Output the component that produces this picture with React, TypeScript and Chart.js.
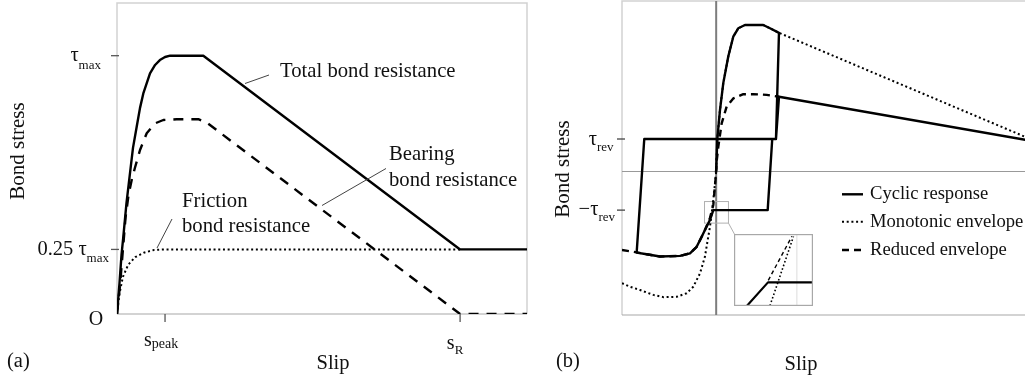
import React, { useEffect, useRef } from "react";
import { Chart, registerables } from "chart.js";

Chart.register(...registerables);

const SERIF = "'Liberation Serif', 'Times New Roman', Times, serif";
const INK = "#111111";

// ---------------- Panel (a): monotonic bond stress-slip components ----------------
// slip in units of s_R, stress in units of tau_max
const slipTotal = [0, 0.0073, 0.0131, 0.0184, 0.0277, 0.0379, 0.0466, 0.0574, 0.0671, 0.0767, 0.0962, 0.111, 0.125, 0.14, 0.155, 0.2516, 1.0, 1.195];
const stressTotal = [0, 0.12, 0.228, 0.299, 0.43, 0.545, 0.643, 0.725, 0.798, 0.854, 0.932, 0.964, 0.983, 0.995, 1.0, 1.0, 0.25, 0.25];

const slipBearing = [0, 0.0093, 0.0172, 0.0248, 0.0335, 0.043, 0.0525, 0.0671, 0.0866, 0.111, 0.135, 0.174, 0.237, 0.2615, 1.0, 1.195];
const stressBearing = [0, 0.119, 0.248, 0.372, 0.46, 0.52, 0.567, 0.635, 0.7, 0.738, 0.751, 0.754, 0.754, 0.741, 0, 0];

const slipFriction = [0, 0.0073, 0.0172, 0.0324, 0.0528, 0.0778, 0.108, 0.138, 1.0];
const stressFriction = [0, 0.08, 0.144, 0.19, 0.22, 0.237, 0.248, 0.25, 0.25];

const yTickValuesA = [1, 0.25];
const xTickValuesA = [0.14, 1];
const namesA = ["Total bond resistance", "Bearing bond resistance", "Friction bond resistance"];

// ---------------- Panel (b): cyclic response ----------------
const tauRev = 1;
const tauRevNeg = -1.19;

const slipCyclic = [0, 0.018, 0.061, 0.114, 0.194, 0.274, 0.354, 0.462, 0.755, 0.863, 1.007, 0.959, -1.153, -1.275, -1.114, -0.901, -0.58, -0.42, -0.313, -0.232, -0.18, -0.099, -0.046, 0.826, 0.899, 0.959, 1.007, 5.0];
const stressCyclic = [0, 1.0, 1.89, 2.72, 3.54, 4.15, 4.41, 4.51, 4.51, 4.41, 4.27, 1.0, 1.0, -2.5, -2.55, -2.62, -2.6, -2.52, -2.32, -2.01, -1.8, -1.49, -1.19, -1.19, 1.0, 1.0, 2.3, 0.96];

const slipMono = [-1.51, -1.382, -1.222, -1.008, -0.848, -0.633, -0.473, -0.367, -0.26, -0.18, -0.127, -0.099, -0.046, 0, 0.018, 0.061, 0.114, 0.194, 0.274, 0.354, 0.462, 0.755, 0.863, 1.007, 5.0];
const stressMono = [-3.44, -3.55, -3.65, -3.8, -3.87, -3.86, -3.75, -3.55, -3.14, -2.62, -2.01, -1.7, -0.88, 0, 1.0, 1.89, 2.72, 3.54, 4.15, 4.41, 4.51, 4.51, 4.41, 4.27, 1.03];

const slipReduced = [-1.51, -1.275, -1.114, -0.901, -0.58, -0.42, -0.313, -0.232, -0.18, -0.099, -0.046, -0.011, 0.01, 0.034, 0.088, 0.168, 0.274, 0.435, 0.595, 0.81, 1.007];
const stressReduced = [-2.42, -2.49, -2.55, -2.62, -2.6, -2.52, -2.32, -2.01, -1.8, -1.43, -1.03, -0.26, 0.35, 0.76, 1.48, 2.0, 2.25, 2.38, 2.38, 2.36, 2.3];

const namesB = ["Cyclic response", "Monotonic envelope", "Reduced envelope"];

// zoom window shown by the inset (in panel-b data units)
const zoomWindowX = [-0.187, 0.197];
const zoomWindowY = [-1.59, -0.926];

// ---------------- Inset (magnified detail, normalised units) ----------------
const insetSlipCyclic = [0.162, 0.43, 1.0];
const insetStressCyclic = [0, 0.328, 0.328];
const insetSlipReduced = [0.434, 0.732];
const insetStressReduced = [0.356, 0.966];
const insetSlipMono = [0.455, 0.753];
const insetStressMono = [0.004, 0.966];
const insetGuideX = 0.796;

function xy(xs: number[], ys: number[]) {
  return xs.map((x, i) => ({ x, y: ys[i] }));
}

function subLabel(
  ctx: CanvasRenderingContext2D,
  main: string,
  sub: string,
  x: number,
  y: number,
  align: "left" | "right" | "center",
  mainSize = 20,
  subSize = 13,
  subDy = 7
) {
  ctx.font = `${mainSize}px ${SERIF}`;
  const wm = ctx.measureText(main).width;
  ctx.font = `${subSize}px ${SERIF}`;
  const ws = ctx.measureText(sub).width;
  const total = wm + ws;
  const x0 = align === "left" ? x : align === "right" ? x - total : x - total / 2;
  ctx.textAlign = "left";
  ctx.textBaseline = "alphabetic";
  ctx.font = `${mainSize}px ${SERIF}`;
  ctx.fillText(main, x0, y);
  ctx.font = `${subSize}px ${SERIF}`;
  ctx.fillText(sub, x0 + wm, y + subDy);
}

function line(ctx: CanvasRenderingContext2D, x1: number, y1: number, x2: number, y2: number) {
  ctx.beginPath();
  ctx.moveTo(x1, y1);
  ctx.lineTo(x2, y2);
  ctx.stroke();
}

const panelAPlugin = {
  id: "panelA",
  beforeDraw(chart: any) {
    const { ctx, width, height } = chart;
    ctx.save();
    ctx.fillStyle = "#ffffff";
    ctx.fillRect(0, 0, width, height);
    ctx.restore();
  },
  beforeDatasetsDraw(chart: any) {
    const { ctx, chartArea, scales } = chart;
    const { left, top, right, bottom } = chartArea;
    ctx.save();
    ctx.strokeStyle = "#d2d2d2";
    ctx.lineWidth = 1.5;
    ctx.beginPath();
    ctx.moveTo(left, bottom);
    ctx.lineTo(left, top);
    ctx.lineTo(right, top);
    ctx.lineTo(right, bottom);
    ctx.stroke();
    ctx.strokeStyle = "#a8a8a8";
    ctx.lineWidth = 1.2;
    line(ctx, left, bottom, right, bottom);
    // ticks
    ctx.strokeStyle = "#555";
    ctx.lineWidth = 1.3;
    yTickValuesA.forEach((v) => {
      const py = scales.y.getPixelForValue(v);
      line(ctx, left - 6, py, left + 2, py);
    });
    xTickValuesA.forEach((v) => {
      const px = scales.x.getPixelForValue(v);
      line(ctx, px, bottom, px, bottom + 8);
    });
    ctx.restore();
  },
  afterDraw(chart: any) {
    const { ctx, chartArea, scales } = chart;
    const { left, bottom } = chartArea;
    ctx.save();
    ctx.fillStyle = INK;
    // y tick labels
    const pMax = scales.y.getPixelForValue(yTickValuesA[0]);
    subLabel(ctx, "\u03c4", "max", left - 16, pMax + 5.5, "right", 20.5, 13, 7.5);
    const pQ = scales.y.getPixelForValue(yTickValuesA[1]);
    subLabel(ctx, "0.25 \u03c4", "max", left - 8, pQ + 5.5, "right", 20.5, 13, 7.5);
    ctx.font = `20px ${SERIF}`;
    ctx.textAlign = "center";
    ctx.textBaseline = "middle";
    ctx.fillText("O", left - 21, bottom + 6);
    // x tick labels
    const pPeak = scales.x.getPixelForValue(xTickValuesA[0]);
    subLabel(ctx, "s", "peak", pPeak - 4, bottom + 32, "center", 20, 14, 2);
    const pR = scales.x.getPixelForValue(xTickValuesA[1]);
    subLabel(ctx, "s", "R", pR - 5, bottom + 35, "center", 20, 13, 5);
    // axis titles
    ctx.font = `20.5px ${SERIF}`;
    ctx.textAlign = "center";
    ctx.textBaseline = "middle";
    ctx.fillText("Slip", 333, 364);
    ctx.textAlign = "left";
    ctx.fillText("(a)", 7, 362);
    ctx.save();
    ctx.translate(18, 151);
    ctx.rotate(-Math.PI / 2);
    ctx.font = `21px ${SERIF}`;
    ctx.textAlign = "center";
    ctx.fillText("Bond stress", 0, 0);
    ctx.restore();
    // annotations
    ctx.font = `20.7px ${SERIF}`;
    ctx.textAlign = "left";
    ctx.textBaseline = "middle";
    ctx.fillText(namesA[0], 280, 72);
    ctx.fillText("Bearing", 389, 155);
    ctx.fillText("bond resistance", 389, 181);
    ctx.fillText("Friction", 182, 202);
    ctx.fillText("bond resistance", 182, 227);
    ctx.strokeStyle = "#444";
    ctx.lineWidth = 1;
    line(ctx, 245, 83.5, 269, 75);
    line(ctx, 322, 205.5, 386, 168.5);
    line(ctx, 157, 248, 172, 219);
    ctx.restore();
  },
};

const panelBPlugin = {
  id: "panelB",
  beforeDraw(chart: any) {
    const { ctx, width, height } = chart;
    ctx.save();
    ctx.fillStyle = "#ffffff";
    ctx.fillRect(0, 0, width, height);
    ctx.restore();
  },
  beforeDatasetsDraw(chart: any) {
    const { ctx, chartArea, scales } = chart;
    const { left, top, right, bottom } = chartArea;
    ctx.save();
    ctx.strokeStyle = "#d2d2d2";
    ctx.lineWidth = 1.5;
    ctx.beginPath();
    ctx.moveTo(left, bottom);
    ctx.lineTo(left, top);
    ctx.lineTo(right, top);
    ctx.stroke();
    ctx.strokeStyle = "#a8a8a8";
    ctx.lineWidth = 1.2;
    line(ctx, left, bottom, right, bottom);
    // zero axes
    const x0 = scales.x.getPixelForValue(0);
    const y0 = scales.y.getPixelForValue(0);
    ctx.strokeStyle = "#999";
    ctx.lineWidth = 1.2;
    line(ctx, left, y0, right, y0);
    ctx.strokeStyle = "#7d7d7d";
    ctx.lineWidth = 2;
    line(ctx, x0, top, x0, bottom);
    // ticks
    ctx.strokeStyle = "#444";
    ctx.lineWidth = 1.3;
    [tauRev, tauRevNeg].forEach((v) => {
      const py = scales.y.getPixelForValue(v);
      line(ctx, left - 5, py, left + 3, py);
    });
    // zoom window + connector to inset
    const zx1 = scales.x.getPixelForValue(zoomWindowX[0]);
    const zx2 = scales.x.getPixelForValue(zoomWindowX[1]);
    const zy1 = scales.y.getPixelForValue(zoomWindowY[1]);
    const zy2 = scales.y.getPixelForValue(zoomWindowY[0]);
    ctx.strokeStyle = "#b0b0b0";
    ctx.lineWidth = 1;
    ctx.strokeRect(zx1, zy1, zx2 - zx1, zy2 - zy1);
    line(ctx, zx2, zy2, zx2 + 6, zy2 + 11);
    ctx.restore();
  },
  afterDraw(chart: any) {
    const { ctx, chartArea, scales } = chart;
    const { left } = chartArea;
    ctx.save();
    ctx.fillStyle = INK;
    const pR = scales.y.getPixelForValue(tauRev);
    subLabel(ctx, "\u03c4", "rev", left - 8.5, pR + 6, "right", 20.5, 13, 6);
    const pRn = scales.y.getPixelForValue(tauRevNeg);
    subLabel(ctx, "\u2212\u03c4", "rev", left - 7, pRn + 5, "right", 20.5, 13, 6);
    ctx.font = `20.5px ${SERIF}`;
    ctx.textAlign = "center";
    ctx.textBaseline = "middle";
    ctx.fillText("Slip", 261, 365);
    ctx.textAlign = "left";
    ctx.fillText("(b)", 16, 362);
    ctx.save();
    ctx.translate(23.5, 169);
    ctx.rotate(-Math.PI / 2);
    ctx.font = `21px ${SERIF}`;
    ctx.textAlign = "center";
    ctx.fillText("Bond stress", 0, 0);
    ctx.restore();
    // legend
    const rows = [194.3, 221.7, 250];
    chart.data.datasets.forEach((ds: any, i: number) => {
      const yy = rows[i];
      ctx.save();
      ctx.strokeStyle = ds.borderColor;
      ctx.lineWidth = ds.borderWidth;
      ctx.setLineDash(ds.borderDash || []);
      line(ctx, 302, yy, 323, yy);
      ctx.restore();
      ctx.font = `18.6px ${SERIF}`;
      ctx.textAlign = "left";
      ctx.textBaseline = "middle";
      ctx.fillText(ds.label, 330, yy);
    });
    ctx.restore();
  },
};

const insetPlugin = {
  id: "inset",
  beforeDraw(chart: any) {
    const { ctx, width, height } = chart;
    ctx.save();
    ctx.fillStyle = "#ffffff";
    ctx.fillRect(0, 0, width, height);
    ctx.restore();
  },
  beforeDatasetsDraw(chart: any) {
    const { ctx, chartArea, scales } = chart;
    const { top, bottom } = chartArea;
    ctx.save();
    ctx.strokeStyle = "#dcdcdc";
    ctx.lineWidth = 1;
    const gx = scales.x.getPixelForValue(insetGuideX);
    line(ctx, gx, top, gx, bottom);
    ctx.restore();
  },
  afterDraw(chart: any) {
    const { ctx, width, height } = chart;
    ctx.save();
    ctx.strokeStyle = "#a8a8a8";
    ctx.lineWidth = 1.2;
    ctx.strokeRect(0.6, 0.6, width - 1.2, height - 1.2);
    ctx.restore();
  },
};

function baseOptions(padding: any, xMin: number, xMax: number, yMin: number, yMax: number): any {
  return {
    animation: false,
    responsive: false,
    maintainAspectRatio: false,
    devicePixelRatio: 1,
    events: [],
    layout: { padding },
    plugins: { legend: { display: false }, tooltip: { enabled: false } },
    elements: { point: { radius: 0 }, line: { tension: 0 } },
    scales: {
      x: { type: "linear", min: xMin, max: xMax, display: false },
      y: { type: "linear", min: yMin, max: yMax, display: false },
    },
  };
}

function ds(label: string, data: any[], width: number, dash: number[], extra: any = {}) {
  return {
    label,
    data,
    showLine: true,
    borderColor: "#000000",
    backgroundColor: "#000000",
    borderWidth: width,
    borderDash: dash,
    borderJoinStyle: "round",
    pointRadius: 0,
    fill: false,
    ...extra,
  };
}

export default function App() {
  const refA = useRef<HTMLCanvasElement>(null);
  const refB = useRef<HTMLCanvasElement>(null);
  const refI = useRef<HTMLCanvasElement>(null);

  useEffect(() => {
    const chartA = new Chart(refA.current as HTMLCanvasElement, {
      type: "scatter",
      data: {
        datasets: [
          ds(namesA[0], xy(slipTotal, stressTotal), 2.4, []),
          ds(namesA[1], xy(slipBearing, stressBearing), 2.4, [10, 8]),
          ds(namesA[2], xy(slipFriction, stressFriction), 2, [2, 2.7]),
        ],
      },
      options: baseOptions({ left: 117, top: 3, right: 13, bottom: 71 }, 0, 1.195, 0, 1.204),
      plugins: [panelAPlugin],
    } as any);

    const chartB = new Chart(refB.current as HTMLCanvasElement, {
      type: "scatter",
      data: {
        datasets: [
          ds(namesB[0], xy(slipCyclic, stressCyclic), 2.4, []),
          ds(namesB[1], xy(slipMono, stressMono), 2, [2, 2.7]),
          ds(namesB[2], xy(slipReduced, stressReduced), 2.4, [7, 5]),
        ],
      },
      options: baseOptions({ left: 82, top: 1, right: 12, bottom: 70 }, -1.51, 5.0, -4.42, 5.25),
      plugins: [panelBPlugin],
    } as any);

    const chartI = new Chart(refI.current as HTMLCanvasElement, {
      type: "scatter",
      data: {
        datasets: [
          ds(namesB[0], xy(insetSlipCyclic, insetStressCyclic), 2.2, []),
          ds(namesB[1], xy(insetSlipMono, insetStressMono), 1.6, [1.6, 2.2]),
          ds(namesB[2], xy(insetSlipReduced, insetStressReduced), 1.4, [4, 3]),
        ],
      },
      options: baseOptions({ left: 0, top: 0, right: 0, bottom: 0 }, 0, 1, 0, 1),
      plugins: [insetPlugin],
    } as any);

    return () => {
      chartA.destroy();
      chartB.destroy();
      chartI.destroy();
    };
  }, []);

  return (
    <div
      style={{
        position: "fixed",
        left: 0,
        top: 0,
        width: 1025,
        height: 385,
        overflow: "hidden",
        background: "#ffffff",
      }}
    >
      <canvas
        ref={refA}
        width={540}
        height={385}
        style={{ position: "absolute", left: 0, top: 0, width: 540, height: 385 }}
      />
      <canvas
        ref={refB}
        width={500}
        height={385}
        style={{ position: "absolute", left: 540, top: 0, width: 500, height: 385 }}
      />
      <canvas
        ref={refI}
        width={79}
        height={72}
        style={{ position: "absolute", left: 734, top: 234, width: 79, height: 72 }}
      />
    </div>
  );
}
